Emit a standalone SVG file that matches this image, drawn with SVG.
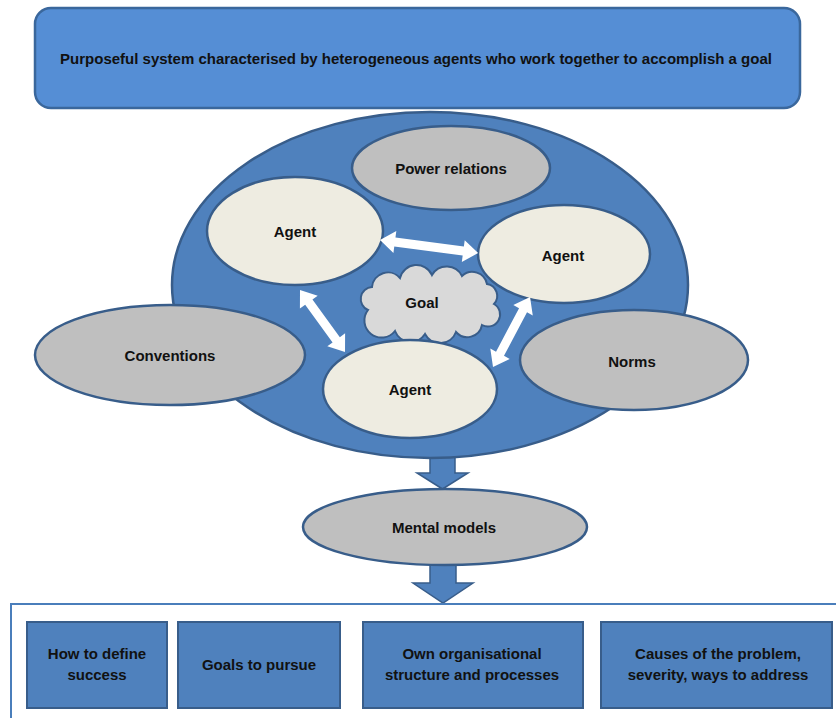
<svg xmlns="http://www.w3.org/2000/svg" width="836" height="718" viewBox="0 0 836 718">
<style>
  text { font-family: "Liberation Sans", Arial, sans-serif; font-weight: bold; font-size: 15px; fill: #111; text-anchor: middle; dominant-baseline: central; }
  .big { fill: #4F81BD; stroke: #385D8A; stroke-width: 2.5; }
  .gray { fill: #BFBFBF; stroke: #385D8A; stroke-width: 2.5; }
  .agent { fill: #EEECE1; stroke: #385D8A; stroke-width: 2.5; }
  .cloud { fill: #D9D9D9; stroke: #385D8A; stroke-width: 2; }
  .box { fill: #4F81BD; stroke: #385D8A; stroke-width: 2; }
  .blk { fill: #4F81BD; stroke: #385D8A; stroke-width: 1.5; }
  .dbl { fill: #FFFFFF; }
</style>
<rect width="836" height="718" fill="#FFFFFF"/>

<g id="title">
  <rect x="35" y="8" width="765" height="100" rx="16" fill="#558ED5" stroke="#3A679C" stroke-width="2.5"/>
  <text x="416" y="58">Purposeful system characterised by heterogeneous agents who work together to accomplish a goal</text>
</g>

<g id="connectors">
  <polygon class="blk" points="430,452 455,452 455,473 468,473 442.5,489 417,473 430,473"/>
  <polygon class="blk" points="430,562 456,562 456,583 473,583 443,603 413,583 430,583"/>
</g>

<g id="system">
  <ellipse class="big" cx="430" cy="285" rx="258" ry="173"/>
</g>

<g id="power-relations">
  <ellipse class="gray" cx="451" cy="168" rx="99" ry="42"/>
  <text x="451" y="168">Power relations</text>
</g>

<g id="conventions">
  <ellipse class="gray" cx="170" cy="355" rx="135" ry="50"/>
  <text x="170" y="355">Conventions</text>
</g>

<g id="norms">
  <ellipse class="gray" cx="634" cy="360" rx="114" ry="50"/>
  <text x="632" y="361">Norms</text>
</g>

<g id="goal">
  <path class="cloud" d="M 368,310 A 12 12 0 0 1 372,287 A 16 16 0 0 1 400,278 A 17 17 0 0 1 432,275 A 17 17 0 0 1 462,276 A 15 15 0 0 1 487,284 A 12 12 0 0 1 494,304 A 12 12 0 0 1 482,325 A 15 15 0 0 1 456,332 A 17 17 0 0 1 425,334 A 17 17 0 0 1 395,331 A 14 14 0 0 1 368,310 Z"/>
  <text x="422" y="302">Goal</text>
</g>

<g id="agent-left">
  <ellipse class="agent" cx="295" cy="231" rx="88" ry="54"/>
  <text x="295" y="231">Agent</text>
</g>

<g id="agent-right">
  <ellipse class="agent" cx="564" cy="254" rx="86" ry="49"/>
  <text x="563" y="255">Agent</text>
</g>

<g id="agent-bottom">
  <ellipse class="agent" cx="410" cy="389" rx="87" ry="49"/>
  <text x="410" y="389">Agent</text>
</g>

<g id="agent-links">
  <polygon class="dbl" transform="translate(380,240) rotate(7.56)" points="0,0 15,-11 15,-4.5 84,-4.5 84,-11 99,0 84,11 84,4.5 15,4.5 15,11"/>
  <polygon class="dbl" transform="translate(300,290) rotate(54)" points="0,0 15,-11 15,-4.5 61.6,-4.5 61.6,-11 76.6,0 61.6,11 61.6,4.5 15,4.5 15,11"/>
  <polygon class="dbl" transform="translate(493,367) rotate(-62.1)" points="0,0 15,-11 15,-4.5 64.2,-4.5 64.2,-11 79.2,0 64.2,11 64.2,4.5 15,4.5 15,11"/>
</g>

<g id="mental-models">
  <ellipse class="gray" cx="445" cy="527" rx="142" ry="38"/>
  <text x="444" y="527">Mental models</text>
</g>

<g id="outcomes">
  <rect x="11" y="604" width="840" height="130" fill="#FFFFFF" stroke="#4A7EBB" stroke-width="2"/>
</g>

<g id="how-to-define-success">
  <rect class="box" x="27" y="622" width="140" height="86"/>
  <text x="97" y="653">How to define</text>
  <text x="97" y="674">success</text>
</g>

<g id="goals-to-pursue">
  <rect class="box" x="178" y="622" width="162" height="86"/>
  <text x="259" y="664">Goals to pursue</text>
</g>

<g id="own-structure">
  <rect class="box" x="363" y="622" width="220" height="86"/>
  <text x="472" y="653">Own organisational</text>
  <text x="472" y="674">structure and processes</text>
</g>

<g id="causes">
  <rect class="box" x="601" y="622" width="231" height="86"/>
  <text x="718" y="653">Causes of the problem,</text>
  <text x="718" y="674">severity, ways to address</text>
</g>
</svg>
